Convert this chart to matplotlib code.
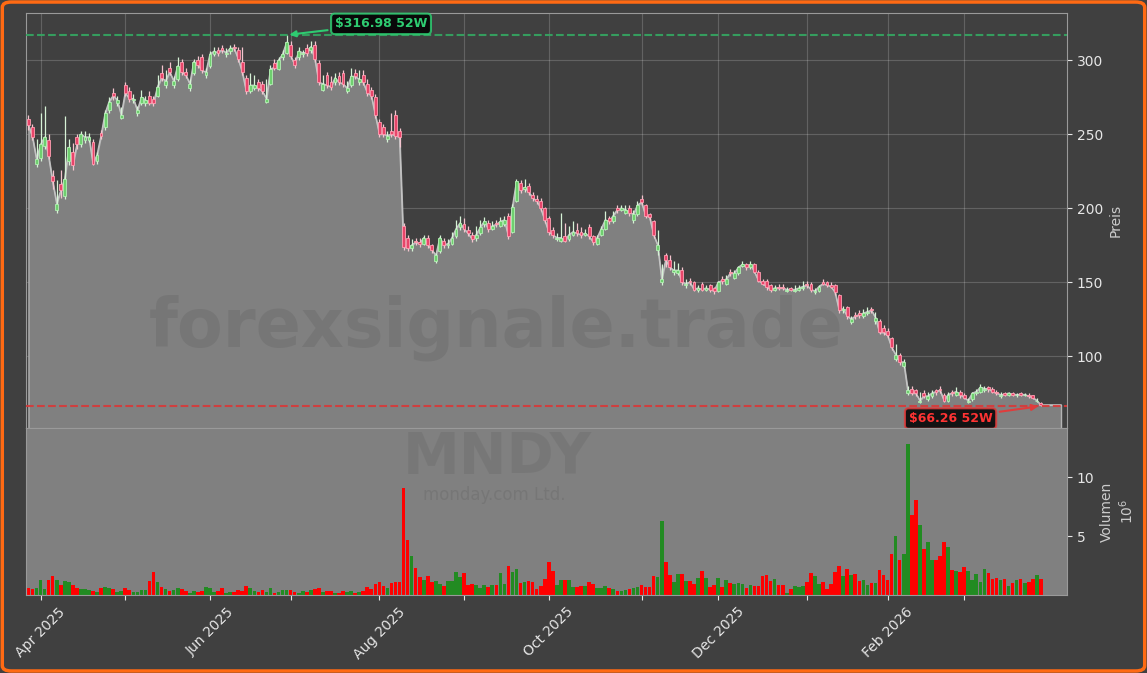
import numpy as np
import pandas as pd
import matplotlib
matplotlib.use('Agg')
import matplotlib.pyplot as plt
from matplotlib.patches import FancyBboxPatch

# MNDY daily candles, 27 Mar 2025 - 27 Mar 2026

opens = [260, 255, 230, 234, 242, 246, 222, 199, 216, 208,
         232, 238, 248, 243, 246, 246, 245, 232, 251, 255,
         266, 278, 271, 261, 283, 279, 273, 264, 271, 271,
         276, 274, 276, 291, 283, 295, 283, 287, 299, 292,
         281, 291, 300, 302, 290, 296, 304, 307, 308, 304,
         306, 309, 307, 299, 288, 279, 281, 285, 284, 272,
         284, 298, 294, 302, 305, 310, 300, 302, 304, 308,
         307, 310, 298, 280, 290, 285, 285, 289, 291, 279,
         283, 291, 285, 290, 284, 280, 275, 258, 255, 247,
         252, 263, 252, 188, 180, 173, 178, 177, 176, 180,
         175, 164, 171, 178, 175, 176, 181, 187, 189, 185,
         182, 180, 183, 189, 190, 186, 190, 188, 189, 195,
         184, 205, 217, 213, 215, 209, 206, 205, 200, 193,
         185, 179, 178, 181, 179, 182, 185, 184, 182, 187,
         181, 176, 182, 186, 193, 191, 200, 199, 197, 200,
         192, 196, 206, 202, 196, 191, 172, 150, 168, 165,
         157, 156, 158, 148, 151, 150, 145, 149, 145, 148,
         146, 144, 152, 149, 157, 153, 156, 161, 162, 160,
         162, 157, 151, 151, 148, 145, 147, 147, 144, 146,
         144, 145, 146, 149, 149, 143, 144, 150, 150, 148,
         148, 141, 131, 133, 123, 128, 129, 127, 129, 132,
         124, 124, 119, 117, 112, 98, 101, 93, 75, 78,
         77, 69, 75, 71, 73, 77, 78, 74, 70, 76,
         74, 76, 74, 69, 71, 75, 76, 77, 79, 78,
         76, 73, 75, 74, 75, 73.5, 75, 73.5, 74, 73.5,
         69.5, 68.5]

highs = [263, 257, 247, 264, 269, 250, 226, 219, 226, 262,
         247, 244, 250, 252, 252, 251, 247, 238, 253, 266,
         275, 281, 276, 268, 285, 282, 277, 269, 280, 276,
         279, 276, 290, 297, 293, 299, 289, 302, 301, 295,
         287, 301, 303, 304, 295, 306, 309, 309, 310, 308,
         310, 311, 309, 309, 290, 291, 290, 287, 286, 287,
         297, 301, 302, 307, 316.98, 313, 302, 309, 307, 311,
         313, 313, 300, 290, 292, 289, 291, 292, 293, 286,
         295, 294, 293, 293, 287, 282, 277, 260, 257, 252,
         264, 266, 254, 190, 182, 179, 180, 180, 182, 182,
         176, 170, 182, 180, 179, 184, 192, 195, 193, 188,
         184, 188, 192, 194, 192, 191, 192, 194, 195, 197,
         203, 220, 219, 220, 217, 211, 209, 207, 201, 195,
         187, 183, 197, 190, 188, 191, 190, 187, 186, 189,
         182, 182, 188, 198, 195, 198, 202, 202, 202, 202,
         199, 205, 209, 203, 197, 192, 185, 162, 170, 168,
         164, 163, 160, 152, 153, 151, 148, 150, 148, 149,
         147, 151, 154, 155, 159, 158, 161, 164, 163, 164,
         163, 158, 152, 152, 149, 148, 149, 149, 147, 147,
         148, 148, 151, 151, 150, 146, 148, 152, 151, 150,
         149, 142, 134, 134, 127, 130, 131, 132, 133, 133,
         130, 125, 121, 119, 113, 108, 102, 98, 80, 80,
         78, 76, 77, 76, 77, 78, 80, 75, 76, 77,
         79, 77, 75, 72, 76, 78, 81, 80, 80, 79,
         77, 76, 76, 76, 76, 75, 76, 75, 75, 74,
         72, 69]

lows = [253, 246, 228, 232, 240, 233, 213, 197, 207, 206,
        229, 226, 240, 241, 244, 245, 229, 230, 247, 253,
        264, 273, 269, 260, 276, 272, 271, 262, 270, 269,
        270, 269, 275, 286, 281, 290, 281, 286, 290, 288,
        279, 290, 295, 291, 288, 295, 303, 303, 305, 302,
        304, 306, 299, 290, 277, 278, 280, 279, 277, 271,
        283, 293, 293, 300, 304, 301, 295, 300, 302, 303,
        305, 299, 283, 279, 281, 280, 283, 283, 282, 278,
        282, 287, 283, 283, 276, 274, 261, 248, 248, 245,
        248, 247, 241, 172, 171, 171, 175, 174, 175, 173,
        170, 163, 170, 173, 173, 175, 180, 185, 184, 181,
        177, 178, 182, 187, 184, 185, 187, 187, 188, 179,
        183, 204, 210, 211, 209, 205, 203, 198, 190, 182,
        180, 178, 177, 177, 178, 181, 181, 180, 181, 179,
        175, 175, 181, 185, 189, 190, 197, 198, 196, 195,
        190, 195, 202, 193, 192, 180, 168, 148, 160, 158,
        155, 155, 148, 146, 148, 144, 143, 144, 144, 143,
        142, 143, 149, 148, 154, 152, 155, 160, 158, 159,
        156, 150, 148, 145, 143, 144, 145, 145, 143, 144,
        143, 144, 145, 146, 143, 142, 143, 148, 147, 146,
        141, 129, 129, 125, 122, 125, 126, 126, 128, 129,
        122, 115, 114, 112, 104, 97, 94, 92, 74, 74,
        73, 68.5, 72, 70, 72, 74, 75, 69, 69, 73,
        73, 72, 71, 68, 70, 74, 75, 76, 76, 75,
        74, 72, 73, 73, 73, 72.5, 73, 73, 72, 71,
        69, 66.26]

closes = [256, 248, 233, 243, 248, 235, 218, 203, 212, 220,
          241, 229, 243, 250, 248, 248, 230, 236, 249, 264,
          272, 276, 273, 263, 278, 274, 274, 266, 275, 273,
          271, 271, 282, 288, 286, 292, 286, 296, 292, 290,
          284, 299, 297, 293, 292, 304, 306, 305, 307, 305,
          308, 308, 301, 292, 279, 283, 283, 281, 279, 274,
          294, 295, 300, 304, 312, 303, 297, 306, 305, 305,
          309, 301, 285, 284, 283, 282, 288, 285, 284, 281,
          289, 289, 287, 285, 278, 276, 263, 250, 250, 249,
          250, 249, 248, 174, 173, 175, 177, 176, 180, 175,
          172, 168, 180, 175, 176, 180, 186, 190, 186, 183,
          179, 182, 187, 191, 186, 188, 189, 191, 192, 181,
          201, 218, 212, 214, 211, 207, 205, 200, 192, 184,
          182, 180, 180, 178, 182, 184, 183, 182, 183, 181,
          177, 180, 186, 192, 191, 195, 199, 200, 199, 197,
          196, 202, 204, 195, 194, 182, 175, 152, 165, 160,
          158, 158, 150, 149, 150, 145, 146, 145, 146, 145,
          144, 150, 151, 152, 156, 156, 160, 162, 160, 162,
          157, 151, 149, 147, 145, 146, 146, 146, 145, 145,
          145, 146, 147, 148, 145, 144, 147, 149, 148, 147,
          143, 131, 132, 127, 125, 127, 128, 129, 130, 131,
          126, 116, 116, 114, 106, 101, 96, 96, 77, 75,
          75, 70, 73, 73, 75, 76, 77, 70, 74, 75,
          76, 74, 72, 70, 75, 76, 79, 78, 78, 76,
          75, 74, 74, 75, 74, 74, 74, 74, 73, 72,
          70, 67]

# volume in millions of shares
volumes = [.62, .54, .62, 1.27, .48, 1.27, 1.61, 1.27, .85, 1.19,
           1.1, .85, .62, .48, .48, .42, .34, .25, .62, .68,
           .56, .48, .28, .34, .62, .42, .25, .25, .42, .42,
           1.19, 1.95, 1.1, .68, .48, .34, .42, .62, .48, .34,
           .2, .34, .25, .34, .68, .62, .25, .34, .62, .2,
           .25, .25, .42, .34, .76, .62, .34, .25, .42, .25,
           .62, .2, .25, .42, .42, .42, .25, .2, .34, .25,
           .42, .48, .62, .25, .34, .34, .2, .2, .34, .25,
           .34, .14, .25, .34, .68, .48, .96, 1.1, .76, .62,
           1.04, 1.1, 1.1, 9.1, 4.7, 3.3, 2.3, 1.5, 1.27, 1.6,
           1.1, 1.19, .96, .76, 1.19, 1.19, 1.95, 1.5, 1.86, .85,
           .9, .85, .62, .85, .7, .85, .85, 1.86, .9, 2.5,
           1.95, 2.2, 1.05, 1.1, 1.19, 1.1, .54, .76, 1.38, 2.8,
           2.0, .85, 1.27, 1.27, 1.27, .7, .7, .76, .76, 1.1,
           .9, .56, .62, .76, .62, .48, .34, .34, .42, .48,
           .62, .68, .85, .7, .7, 1.6, 1.5, 6.3, 2.8, 1.7,
           1.1, 1.75, 1.75, 1.19, 1.19, .9, 1.47, 2.0, 1.47, .7,
           .85, 1.47, .7, 1.27, 1.05, .9, 1.05, .9, .62, .85,
           .76, .76, 1.6, 1.7, 1.19, 1.33, .82, .85, .17, .48,
           .76, .7, .76, 1.1, 1.84, 1.6, .9, 1.1, .54, .9,
           1.95, 2.45, 1.6, 2.2, 1.7, 1.75, 1.19, 1.27, .85, 1.0,
           1.0, 2.1, 1.7, 1.27, 3.45, 5.0, 2.97, 3.45, 12.8, 6.84,
           8.05, 5.93, 3.9, 4.5, 2.97, 2.97, 3.3, 4.5, 4.07, 2.1,
           2.03, 1.95, 2.37, 2.03, 1.27, 1.75, 1.1, 2.17, 1.84, 1.38,
           1.47, 1.27, 1.33, .76, 1.05, 1.27, 1.33, 1.05, 1.1, 1.33,
           1.7, 1.33]

holidays = ['2025-04-18', '2025-05-26', '2025-06-19', '2025-07-04', '2025-09-01',
            '2025-11-27', '2025-12-25', '2026-01-01', '2026-01-19', '2026-02-16']

dates = pd.bdate_range('2025-03-27', '2026-03-27')
dates = dates[~dates.isin(pd.to_datetime(holidays))]

o = np.array(opens, float)
h = np.array(highs, float)
l = np.array(lows, float)
c = np.array(closes, float)
v = np.array(volumes, float)
n = len(c)
x = np.arange(n)
up = c >= o

# month ticks, label every second month
month_pos = [i for i in range(1, n) if dates[i].month != dates[i - 1].month]
month_lab = [dates[i].strftime('%b %Y') if dates[i].month % 2 == 0 else '' for i in month_pos]

BG = '#404040'
fig = plt.figure(figsize=(11.47, 6.73), dpi=100, facecolor=BG)
ax = fig.add_axes([0.0227, 0.364, 0.9076, 0.6166])
axv = fig.add_axes([0.0227, 0.1159, 0.9076, 0.2481], sharex=ax)

# price area
ax.set_facecolor(BG)
pad = 5
xf = np.r_[x, np.arange(n, n + pad)]
cf = np.r_[c, np.full(pad, c[-1])]
ax.fill_between(xf, cf, 0, facecolor='#808080', edgecolor='#b4b4b4', lw=1, zorder=1)
ax.plot(xf, cf, color='#c4c4c4', lw=1, zorder=2)

# candles
wick_col = np.where(up, '#d6f2d6', '#f4c4cf')
ax.vlines(x, l, h, colors=wick_col, lw=0.9, zorder=3)
ax.bar(x, np.abs(c - o), bottom=np.minimum(o, c), width=0.7,
       color=np.where(up, '#6fcf6f', '#e8456a'),
       edgecolor=np.where(up, '#b4f0b4', '#ff9fb2'), lw=0.6, zorder=4)

# 52 week high / low
i_hi = int(np.argmax(h))
i_lo = int(np.argmin(l))
ax.axhline(h[i_hi], color='#34a862', ls='--', lw=1.5, alpha=0.9, zorder=5)
ax.axhline(l[i_lo], color='#d83838', ls='--', lw=1.5, alpha=0.9, zorder=5)
ax.annotate(f'${h[i_hi]:.2f} 52W', xy=(i_hi, h[i_hi]), xytext=(68, 8),
            textcoords='offset points', ha='center', va='center',
            color='#2ecc71', fontsize=9, fontweight='bold', zorder=6,
            bbox=dict(boxstyle='round,pad=0.3', fc='black', ec='#2ecc71', lw=1.5, alpha=0.85),
            arrowprops=dict(arrowstyle='-|>', color='#2ecc71', lw=1.5))
ax.annotate(f'${l[i_lo]:.2f} 52W', xy=(i_lo, l[i_lo]), xytext=(-65, -9),
            textcoords='offset points', ha='center', va='center',
            color='#ff3333', fontsize=9, fontweight='bold', zorder=6,
            bbox=dict(boxstyle='round,pad=0.3', fc='black', ec='#e03c3c', lw=1.5, alpha=0.85),
            arrowprops=dict(arrowstyle='-|>', color='#e03c3c', lw=1.5))

ax.set_ylim(51.4, 331.8)
ax.set_xlim(-0.6, 257.5)
ax.set_yticks([100, 150, 200, 250, 300])
ax.grid(True, color='white', alpha=0.18, lw=0.8)
ax.set_axisbelow(True)
ax.tick_params(axis='x', labelbottom=False, length=0)

# volume
axv.set_facecolor('#808080')
axv.bar(x, v, width=0.9, color=np.where(up, '#228b22', '#ff0000'), zorder=2)
axv.set_ylim(0, 14.2)
axv.set_yticks([5, 10])
axv.set_xticks(month_pos)
axv.set_xticklabels(month_lab, rotation=45)

for a in (ax, axv):
    a.yaxis.tick_right()
    a.yaxis.set_label_position('right')
    a.tick_params(colors='#e6e6e6', labelsize=10)
    for s in a.spines.values():
        s.set_color('#9a9a9a')
ax.set_ylabel('Preis', color='#cccccc', fontsize=10)
axv.set_ylabel('Volumen\n$10^6$', color='#cccccc', fontsize=10)

# watermarks
fig.text(0.4325, 0.5126, 'forexsignale.trade', fontsize=48, fontweight='bold',
         color='#505050', alpha=0.2, ha='center', va='center')
fig.text(0.4333, 0.3185, 'MNDY', fontsize=41, fontweight='bold',
         color='#505050', alpha=0.17, ha='center', va='center')
fig.text(0.4307, 0.265, 'monday.com Ltd.', fontsize=12,
         color='#505050', alpha=0.2, ha='center', va='center')

fig.patches.append(FancyBboxPatch((0.002, 0.003), 0.996, 0.994,
                                  boxstyle='round,pad=0,rounding_size=0.008',
                                  transform=fig.transFigure, fc='none',
                                  ec='#ff6a13', lw=2.5))

fig.savefig('out.png', dpi=100, facecolor=fig.get_facecolor())
